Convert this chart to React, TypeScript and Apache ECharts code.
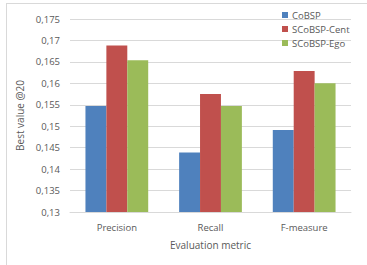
import React, { useEffect, useRef } from "react";
import * as echarts from "echarts";

const categories = ["Precision", "Recall", "F-measure"];
const seriesNames = ["CoBSP", "SCoBSP-Cent", "SCoBSP-Ego"];
const coBSP = [0.1547, 0.1439, 0.1491];
const scobspCent = [0.1688, 0.1575, 0.1629];
const scobspEgo = [0.1654, 0.1547, 0.16];
const colors = ["#4F81BD", "#C0504D", "#9BBB59"];

const fmt = (v: number) => {
  const s = parseFloat(v.toFixed(3)).toString();
  return s.replace(".", ",");
};

export default function App() {
  const ref = useRef<HTMLDivElement>(null);
  useEffect(() => {
    const chart = echarts.init(ref.current!, null, { renderer: "svg" });
    const font = "'Open Sans', sans-serif";
    const data = [coBSP, scobspCent, scobspEgo];
    chart.setOption({
      animation: false,
      backgroundColor: "#fff",
      textStyle: { fontFamily: font },
      graphic: [
        { type: "line", shape: { x1: 6, y1: 3.5, x2: 367, y2: 3.5 }, style: { stroke: "#D9D9D9", lineWidth: 1 } },
        { type: "line", shape: { x1: 6.5, y1: 3, x2: 6.5, y2: 265 }, style: { stroke: "#D9D9D9", lineWidth: 1 } },
      ],
      grid: { left: 70, right: 16, top: 19, bottom: 53, containLabel: false },
      legend: {
        orient: "vertical",
        left: 282,
        top: 10,
        padding: 0,
        itemWidth: 6,
        itemHeight: 6,
        itemGap: 4,
        icon: "rect",
        textStyle: { fontFamily: font, fontSize: 9.5, color: "#595959", padding: [0, 0, 0, -1] },
        data: seriesNames,
      },
      xAxis: {
        type: "category",
        data: categories,
        name: "Evaluation metric",
        nameLocation: "middle",
        nameGap: 28,
        nameTextStyle: { fontFamily: font, fontSize: 10, color: "#595959" },
        axisLine: { lineStyle: { color: "#D9D9D9" } },
        axisTick: { show: false },
        axisLabel: { fontFamily: font, fontSize: 9.5, color: "#595959", margin: 10 },
      },
      yAxis: {
        type: "value",
        min: 0.13,
        max: 0.175,
        interval: 0.005,
        name: "Best value @20",
        nameLocation: "middle",
        nameGap: 44,
        nameTextStyle: { fontFamily: font, fontSize: 10, color: "#595959" },
        axisLine: { show: false },
        axisTick: { show: false },
        axisLabel: { fontFamily: font, fontSize: 9.5, color: "#595959", margin: 10, formatter: fmt },
        splitLine: { lineStyle: { color: "#D9D9D9" } },
      },
      series: seriesNames.map((n, i) => ({
        name: n,
        type: "bar",
        data: data[i],
        itemStyle: { color: colors[i] },
        barGap: "0%",
        barCategoryGap: "33%",
      })),
    });
    return () => chart.dispose();
  }, []);
  return <div ref={ref} style={{ position: "fixed", left: 0, top: 0, width: 367, height: 265 }} />;
}
